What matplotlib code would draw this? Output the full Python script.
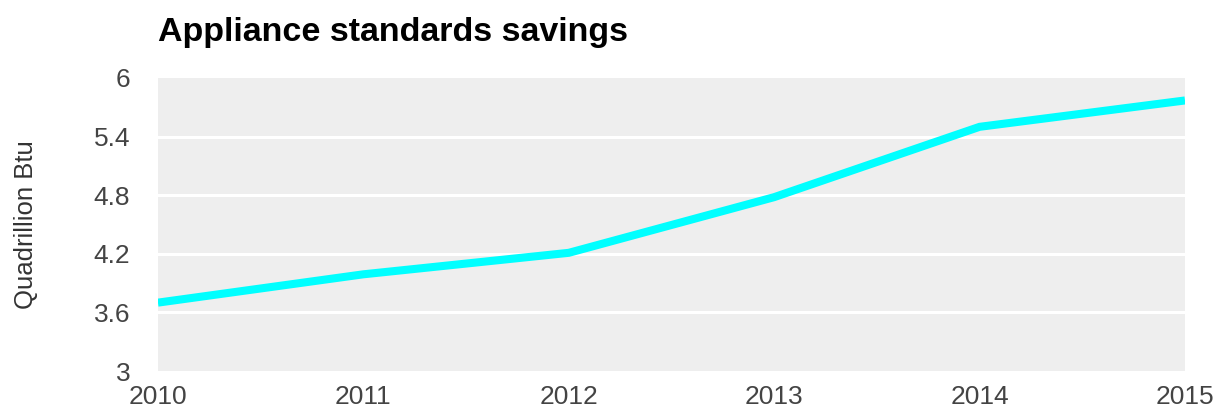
import matplotlib.pyplot as plt
import numpy as np

plt.rcParams['font.family'] = ['Liberation Sans', 'DejaVu Sans']

years = [2010, 2011, 2012, 2013, 2014, 2015]
savings = [3.70, 3.99, 4.21, 4.78, 5.50, 5.77]
y_ticks = [3, 3.6, 4.2, 4.8, 5.4, 6]
y_tick_labels = ['3', '3.6', '4.2', '4.8', '5.4', '6']

fig = plt.figure(figsize=(12.15, 4.12), dpi=100)
ax = fig.add_axes([0.130, 0.0995, 0.8453, 0.7112])
ax.set_facecolor('#eeeeee')

for yv in y_ticks[1:-1]:
    ax.axhline(yv, color='white', lw=2.2, zorder=1)

ax.plot(years, savings, color='#00ffff', lw=5.8, solid_capstyle='butt',
        solid_joinstyle='miter', zorder=3)

ax.set_xlim(years[0], years[-1])
ax.set_ylim(3, 6)
ax.set_xticks(years)
ax.set_xticklabels([str(y) for y in years])
ax.set_yticks(y_ticks)
ax.set_yticklabels(y_tick_labels)
ax.tick_params(length=0, labelsize=19, colors='#444444')
ax.tick_params(axis='x', pad=10)
ax.tick_params(axis='y', pad=20)

for s in ax.spines.values():
    s.set_visible(False)

ax.set_ylabel('Quadrillion Btu', fontsize=18.5, color='#333333', labelpad=40)
fig.text(0.130, 0.92, 'Appliance standards savings', fontsize=24.5,
         fontweight='bold', color='black', ha='left', va='center')

fig.savefig('out.png', dpi=100)
